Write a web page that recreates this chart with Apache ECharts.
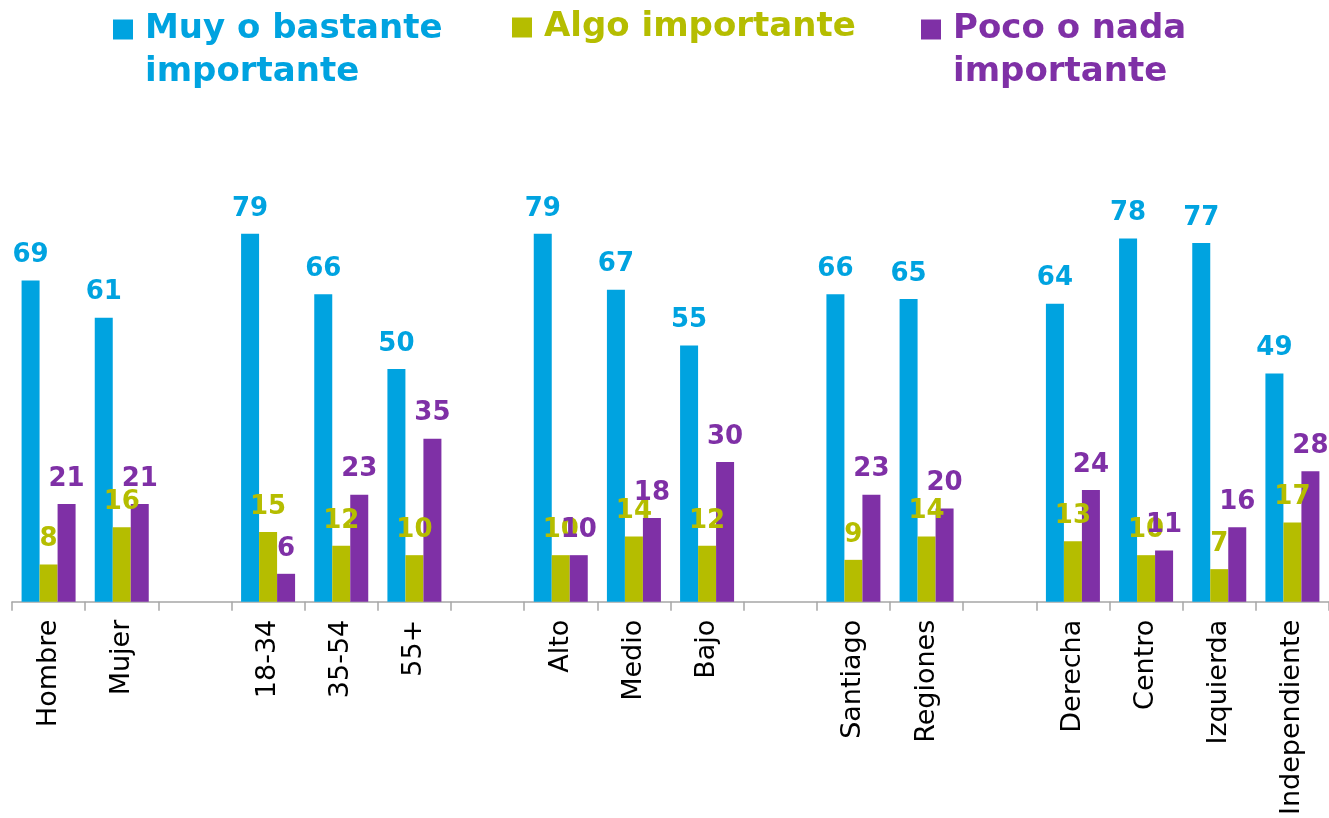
<!DOCTYPE html>
<html>
<head>
<meta charset="utf-8">
<script src="https://cdn.jsdelivr.net/npm/echarts@6/dist/echarts.min.js"></script>
<style>
  html, body { margin: 0; padding: 0; background: #fff; }
  #chart { width: 1329px; height: 818px; }
</style>
</head>
<body>
<div id="chart"></div>
<script>
// categorias (los '' son huecos entre grupos)
const categories = ['Hombre', 'Mujer', '', '18-34', '35-54', '55+', '', 'Alto', 'Medio', 'Bajo', '',
  'Santiago', 'Regiones', '', 'Derecha', 'Centro', 'Izquierda', 'Independiente'];
const muyImportante = [69, 61, '-', 79, 66, 50, '-', 79, 67, 55, '-', 66, 65, '-', 64, 78, 77, 49];
const algoImportante = [8, 16, '-', 15, 12, 10, '-', 10, 14, 12, '-', 9, 14, '-', 13, 10, 7, 17];
const pocoImportante = [21, 21, '-', 6, 23, 35, '-', 10, 18, 30, '-', 23, 20, '-', 24, 11, 16, 28];

const seriesNames = ['Muy o bastante importante', 'Algo importante', 'Poco o nada importante'];
// linea vacia arriba para que el icono quede junto a la primera linea
const legendText = {
  'Muy o bastante importante': '\nMuy o bastante\nimportante',
  'Algo importante': 'Algo importante',
  'Poco o nada importante': '\nPoco o nada\nimportante'
};
const colors = ['#00a3e0', '#b5bd00', '#7f30a6'];
const legendLeft = [113, 512, 921];
const legendTop = [-35, 6, -35];

const myChart = echarts.init(document.getElementById('chart'));

const makeLegend = (i) => ({
  data: [seriesNames[i]],
  left: legendLeft[i],
  top: legendTop[i],
  padding: 0,
  itemWidth: 20,
  itemHeight: 20,
  icon: 'rect',
  selectedMode: false,
  formatter: (name) => legendText[name],
  textStyle: {
    color: colors[i],
    fontFamily: 'DejaVu Sans',
    fontWeight: 'bold',
    fontSize: 34,
    lineHeight: 43,
    padding: [0, 0, 0, 7]
  }
});

const makeSeries = (i, data) => ({
  name: seriesNames[i],
  type: 'bar',
  data: data,
  barWidth: 18,
  barGap: '0%',
  itemStyle: { color: colors[i] },
  label: {
    show: true,
    position: 'top',
    distance: 12,
    color: colors[i],
    fontFamily: 'DejaVu Sans',
    fontWeight: 'bold',
    fontSize: 26
  }
});

const option = {
  animation: false,
  color: colors,
  legend: [makeLegend(0), makeLegend(1), makeLegend(2)],
  grid: { left: 12, right: 0, top: 136, bottom: 216, containLabel: false },
  xAxis: {
    type: 'category',
    data: categories,
    axisLine: { lineStyle: { color: '#a6a6a6', width: 1.5 } },
    axisTick: { show: true, length: 9, lineStyle: { color: '#a6a6a6', width: 1.5 } },
    axisLabel: {
      interval: 0,
      rotate: 90,
      margin: 18,
      color: '#000',
      fontFamily: 'DejaVu Sans',
      fontSize: 27
    }
  },
  yAxis: {
    type: 'value',
    min: 0,
    max: 100,
    show: false
  },
  series: [
    makeSeries(0, muyImportante),
    makeSeries(1, algoImportante),
    makeSeries(2, pocoImportante)
  ]
};

myChart.setOption(option);
window.addEventListener('resize', () => myChart.resize());
</script>
</body>
</html>
